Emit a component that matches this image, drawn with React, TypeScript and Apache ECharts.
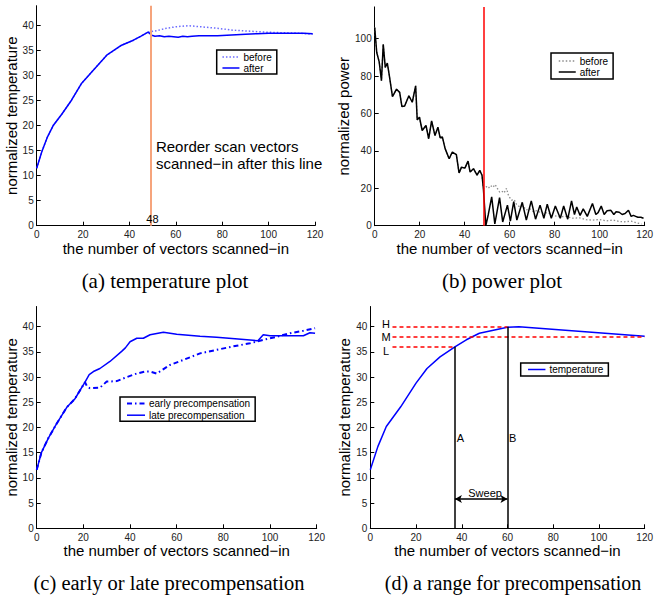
import React, { useEffect, useRef } from "react";
import * as echarts from "echarts";

// ---------- tick labels ----------
const xTicks = [0, 20, 40, 60, 80, 100, 120];
const tempTicks = [0, 5, 10, 15, 20, 25, 30, 35, 40];
const powerTicks = [0, 20, 40, 60, 80, 100];

// ---------- (a) temperature plot ----------
const tempRiseX = [0, 2.2, 4.5, 7.2, 10.8, 15, 19.4, 24.4, 30.2, 36.6, 41.7, 45, 48];
const tempRiseY = [11.5, 14.8, 17.6, 20.1, 22.3, 25.1, 28.5, 31.1, 34.1, 36.1, 37.1, 37.9, 38.7];
const afterTailX = [49.6, 51, 53, 55, 57, 59, 61, 63, 65, 67, 70, 74, 78, 82, 86, 90, 95, 100, 105, 110, 115, 119];
const afterTailY = [38.1, 37.9, 38.0, 37.8, 37.9, 37.8, 37.7, 37.9, 37.8, 37.9, 38.0, 38.0, 38.0, 38.1, 38.2, 38.3, 38.4, 38.5, 38.5, 38.5, 38.5, 38.4];
const beforeTailX = [51.7, 56, 60.3, 65.4, 70.4, 77.6, 84.8, 92, 99, 106, 113.5, 119];
const beforeTailY = [39, 39.5, 39.8, 40, 39.8, 39.5, 39.1, 38.9, 38.7, 38.6, 38.5, 38.3];
const reorderAtA = 49;

// ---------- (b) power plot ----------
const powerHeadX = [0, 0.9, 2, 3, 3.8, 4.7, 5.6, 6.4, 7.9, 9.7, 11.1, 12.1, 13.3, 15.2, 16.7, 18.2, 18.9, 19.9, 21.1, 22.8, 24, 25.3, 26.8, 28.1, 29.1, 30.1, 31.3, 33.1, 34.5, 36.3, 37.5, 38.6, 40.1, 41.5, 42.4, 43.9, 45.5, 46.7, 47.7];
const powerHeadY = [106, 92.6, 87.6, 77.5, 97, 84.6, 87, 81, 69, 73, 71.3, 63.7, 64, 69.5, 66, 74.8, 56.6, 58, 50.9, 53.6, 46.5, 56, 48.2, 52.7, 47, 47.4, 41.2, 35.8, 39.4, 38, 28.2, 31.3, 30.8, 34.5, 28.7, 30.5, 27, 29.6, 27];
const powerAfterX = [48.3, 49.4, 50.5, 52, 53.4, 55.5, 56.9, 59, 60.3, 61.8, 63.2, 65.6, 67.4, 69.6, 71.5, 73.5, 75.2, 76.7, 78.5, 80.3, 82.5, 84, 85.8, 87.5, 88.8, 89.8, 91.3, 92.7, 94.5, 96.8, 98.3, 99.3, 100.7, 102, 103.3, 105, 106.3, 107.3, 108.7, 110, 111.3, 112.8, 114, 115, 116, 117, 118.3, 119.5];
const powerAfterY = [20, 0, 6, 15.4, 1, 15, 2, 11, 2.5, 12.9, 3, 12.5, 3, 13.3, 3.5, 11, 4, 11.5, 4, 10.5, 4, 10.5, 3.5, 13.3, 6, 10, 5.5, 9, 5, 11.9, 6, 7, 10.5, 6, 8, 8.2, 6, 7.5, 7.2, 6, 6.5, 8.3, 5, 5.5, 5, 4.5, 4.5, 4];
const powerBeforeX = [48.3, 49.5, 50.5, 51.5, 52.5, 53.5, 54.5, 55.5, 56.5, 57.5, 58.6, 59.5, 60.8, 62, 63, 64.5, 66, 67.3, 69, 70.5, 72, 74.7, 77, 79, 82, 85, 88, 91, 94, 96.6, 100, 103, 106, 109, 111, 114, 116.5, 118.6];
const powerBeforeY = [20, 21, 20, 21.5, 20.5, 22, 20, 18, 18.5, 17.5, 20, 16, 13.7, 14, 11.5, 10, 10.5, 8.4, 9, 7.5, 8, 6.6, 7, 5.5, 4.8, 5, 4, 4.2, 3.2, 3, 3.3, 2.6, 3, 2.2, 2.1, 2.4, 1.5, 0.9];
const reorderAtB = 48.3;

// ---------- (c) early or late precompensation ----------
const lateX = [0, 2, 5, 8.6, 12.9, 16.4, 20.7, 22.5, 24.3, 27.1, 31.4, 36.4, 38, 40, 42.9, 45.7, 48.6, 54.3, 60, 70, 77.1, 85, 94.8, 97.1, 100, 105, 114.3, 117.1, 119.3];
const lateY = [11.6, 15, 17.9, 20.8, 24, 25.7, 29, 30.5, 31.1, 31.7, 33.1, 35.1, 35.8, 37, 37.7, 37.7, 38.4, 38.9, 38.5, 38.1, 37.9, 37.6, 37.2, 38.4, 38.2, 38.2, 38.2, 38.8, 38.7];
const earlyHeadCount = 7; // early and late coincide up to x = 20.7
const earlyTailX = [21.6, 22.8, 27.1, 30, 34.3, 38.6, 42.9, 46.4, 48.6, 51.4, 57.1, 62.8, 70, 77.1, 84.3, 91.4, 97.1, 102.9, 108.6, 114.3, 119.3];
const earlyTailY = [28.1, 27.8, 27.9, 29.1, 29.2, 30, 30.7, 31.1, 31.1, 30.7, 32.4, 33.4, 34.7, 35.4, 36.1, 36.7, 37.4, 38, 38.7, 39.2, 39.7];

// ---------- (d) a range for precompensation ----------
const rangeX = [0, 3.3, 7, 13.3, 20, 24.8, 30.5, 37, 42, 47.7, 60, 65, 120];
const rangeY = [11.6, 16.2, 20.2, 24.1, 28.8, 31.7, 34, 36, 37.4, 38.7, 39.9, 40, 38.1];
const levelNames = ["H", "M", "L"];
const levelValues = [40, 38, 36];
const sweepA = 37;
const sweepB = 60;

const zip = (xs: number[], ys: number[]) => xs.map((x, i) => [x, ys[i]]);

const SANS = '"Liberation Sans", Arial, Helvetica, sans-serif';
const SERIF = '"Liberation Serif", "Times New Roman", serif';
const BLUE = "#0000ff";

function xAxisCfg(gridIndex: number) {
  return {
    gridIndex,
    type: "value",
    min: 0,
    max: 120,
    interval: 20,
    name: "the number of vectors scanned−in",
    nameLocation: "middle",
    nameGap: 13,
    nameTextStyle: { fontSize: 15, color: "#000", fontFamily: SANS },
    axisLine: { show: true, onZero: false, lineStyle: { color: "#000", width: 1 } },
    axisTick: { show: true, inside: true, length: 4, customValues: xTicks, lineStyle: { color: "#000" } },
    axisLabel: { fontSize: 10, margin: 4, color: "#222", fontFamily: SANS, customValues: xTicks },
    splitLine: { show: false },
  };
}

function yAxisCfg(gridIndex: number, name: string, max: number, interval: number, ticks: number[], gap: number) {
  return {
    gridIndex,
    type: "value",
    min: 0,
    max,
    interval,
    name,
    nameLocation: "middle",
    nameGap: gap,
    nameTextStyle: { fontSize: 15, color: "#000", fontFamily: SANS },
    axisLine: { show: true, onZero: false, lineStyle: { color: "#000", width: 1 } },
    axisTick: { show: true, inside: true, length: 4, customValues: ticks, lineStyle: { color: "#000" } },
    axisLabel: { fontSize: 10, margin: 3, color: "#222", fontFamily: SANS, customValues: ticks },
    splitLine: { show: false },
  };
}

function legendCfg(left: number, top: number, items: any[], padding: number[], itemGap: number, itemWidth: number) {
  return {
    left,
    top,
    orient: "vertical",
    selectedMode: false,
    data: items.map((it) => ({ ...it, itemStyle: { opacity: 0, borderWidth: 0 } })),
    padding,
    itemGap,
    itemWidth,
    itemHeight: 10,
    itemStyle: { opacity: 0, borderWidth: 0 },
    borderColor: "#000",
    borderWidth: 1.5,
    borderRadius: 0,
    backgroundColor: "#fff",
    textStyle: { fontSize: 10, color: "#000", fontFamily: SANS, padding: [0, 0, 0, -1] },
  };
}

const noSym = { symbol: "none", showSymbol: false };

function buildOption() {
  const hiddenPoint = { symbol: "circle", symbolSize: 0, itemStyle: { color: "transparent" } };
  const txt = (fontSize: number) => ({ show: true, position: "inside", fontSize, color: "#000", fontFamily: SANS });
  return {
    animation: false,
    backgroundColor: "#fff",
    grid: [
      { left: 36.7, top: 5.7, width: 278.3, height: 220 },
      { left: 374.7, top: 6.9, width: 273.3, height: 218.8 },
      { left: 36.7, top: 306.5, width: 280, height: 221.8 },
      { left: 370.3, top: 306.5, width: 279.4, height: 221.8 },
    ],
    xAxis: [xAxisCfg(0), xAxisCfg(1), xAxisCfg(2), xAxisCfg(3)],
    yAxis: [
      yAxisCfg(0, "normalized temperature", 44, 5, tempTicks, 14),
      yAxisCfg(1, "normalized power", 117, 20, powerTicks, 20),
      yAxisCfg(2, "normalized temperature", 44, 5, tempTicks, 14.5),
      yAxisCfg(3, "normalized temperature", 44, 5, tempTicks, 15.5),
    ],
    legend: [
      legendCfg(216.7, 50, [
        { name: "before", lineStyle: { color: "#6b6bff", type: [1.5, 2], width: 1.5 } },
        { name: "after", lineStyle: { color: BLUE, type: "solid", width: 1.5 } },
      ], [2, 5, 1, 5], 1, 17),
      legendCfg(551, 53, [
        { name: "before", lineStyle: { color: "#8c8c8c", type: [1.5, 2], width: 1.5 } },
        { name: "after", lineStyle: { color: "#000", type: "solid", width: 1.5 } },
      ], [3, 5, 2, 7], 1, 17),
      legendCfg(120, 397, [
        { name: "early precompensation", lineStyle: { color: BLUE, type: [5, 3, 1.5, 3], width: 2 } },
        { name: "late precompensation", lineStyle: { color: BLUE, type: "solid", width: 1.5 } },
      ], [1.5, 5, 1, 6], 1.7, 18),
      legendCfg(520.7, 363, [
        { name: "temperature", lineStyle: { color: BLUE, type: "solid", width: 1.5 } },
      ], [1.5, 5, 1.5, 6.6], 1, 17.4),
    ],
    series: [
      // (a)
      {
        type: "line", name: "before", xAxisIndex: 0, yAxisIndex: 0, ...noSym,
        data: zip([...tempRiseX, ...beforeTailX], [...tempRiseY, ...beforeTailY]),
        itemStyle: { color: "#6b6bff" },
        lineStyle: { color: "#6b6bff", type: [1.5, 2], width: 1.5 },
        z: 2,
      },
      {
        type: "line", name: "after", xAxisIndex: 0, yAxisIndex: 0, ...noSym,
        data: zip([...tempRiseX, ...afterTailX], [...tempRiseY, ...afterTailY]),
        itemStyle: { color: BLUE },
        lineStyle: { color: BLUE, width: 1.5 },
        z: 3,
        markLine: {
          silent: true, symbol: "none", label: { show: false },
          lineStyle: { color: "#f6a47c", width: 2, type: "solid" },
          data: [{ xAxis: reorderAtA }],
        },
        markPoint: {
          ...hiddenPoint,
          silent: true,
          data: [
            { coord: [49.9, 1.44], label: { ...txt(11), formatter: "48" } },
            { coord: [51.4, 14.24], label: { ...txt(15), position: "right", distance: 0, align: "left", formatter: "Reorder scan vectors\nscanned−in after this line", lineHeight: 17 } },
          ],
        },
      },
      // (b)
      {
        type: "line", name: "before", xAxisIndex: 1, yAxisIndex: 1, ...noSym,
        data: zip([...powerHeadX, ...powerBeforeX], [...powerHeadY, ...powerBeforeY]),
        itemStyle: { color: "#8c8c8c" },
        lineStyle: { color: "#8c8c8c", type: [1.5, 2], width: 1.3 },
        z: 2,
      },
      {
        type: "line", name: "after", xAxisIndex: 1, yAxisIndex: 1, ...noSym,
        data: zip([...powerHeadX, ...powerAfterX], [...powerHeadY, ...powerAfterY]),
        itemStyle: { color: "#000" },
        lineStyle: { color: "#000", width: 1.5 },
        z: 3,
        markLine: {
          silent: true, symbol: "none", label: { show: false },
          lineStyle: { color: "#ff0000", width: 1.5, type: "solid" },
          data: [{ xAxis: reorderAtB }],
        },
      },
      // (c)
      {
        type: "line", name: "early precompensation", xAxisIndex: 2, yAxisIndex: 2, ...noSym,
        data: zip([...lateX.slice(0, earlyHeadCount), ...earlyTailX], [...lateY.slice(0, earlyHeadCount), ...earlyTailY]),
        itemStyle: { color: BLUE },
        lineStyle: { color: BLUE, type: [5, 3, 1.5, 3], width: 2 },
      },
      {
        type: "line", name: "late precompensation", xAxisIndex: 2, yAxisIndex: 2, ...noSym,
        data: zip(lateX, lateY),
        itemStyle: { color: BLUE },
        lineStyle: { color: BLUE, width: 1.5 },
      },
      // (d)
      {
        type: "line", name: "temperature", xAxisIndex: 3, yAxisIndex: 3, ...noSym,
        data: zip(rangeX, rangeY),
        itemStyle: { color: BLUE },
        lineStyle: { color: BLUE, width: 1.5 },
        z: 3,
        markPoint: {
          ...hiddenPoint,
          silent: true,
          label: txt(11),
          data: [
            { coord: [39.4, 18], label: { ...txt(11), formatter: "A" } },
            { coord: [62.3, 18], label: { ...txt(11), formatter: "B" } },
            { coord: [50.2, 7.1], label: { ...txt(11), formatter: "Sweep" } },
            { coord: [6.9, 40.5], label: { ...txt(11), formatter: levelNames[0] } },
            { coord: [6.9, 38.0], label: { ...txt(11), formatter: levelNames[1] } },
            { coord: [6.9, 35.2], label: { ...txt(11), formatter: levelNames[2] } },
          ],
        },
      },
      {
        type: "line", xAxisIndex: 3, yAxisIndex: 3, data: [], ...noSym,
        markLine: {
          silent: true, symbol: "none",
          lineStyle: { color: "#ff0000", width: 1.5, type: [4, 3] },
          label: { show: false },
          data: [
            [{ coord: [9.7, levelValues[0]] }, { coord: [sweepB, levelValues[0]] }],
            [{ coord: [9.7, levelValues[1]] }, { coord: [120, levelValues[1]] }],
            [{ coord: [9.7, levelValues[2]] }, { coord: [sweepA, levelValues[2]] }],
          ],
        },
      },
      {
        type: "line", xAxisIndex: 3, yAxisIndex: 3, data: [], ...noSym,
        markLine: {
          silent: true, symbol: "none",
          lineStyle: { color: "#000", width: 1.5, type: "solid" },
          label: { show: false },
          data: [
            [{ coord: [sweepA, 0] }, { coord: [sweepA, levelValues[2]] }],
            [{ coord: [sweepB, 0] }, { coord: [sweepB, levelValues[0]] }],
          ],
        },
      },
      {
        type: "line", xAxisIndex: 3, yAxisIndex: 3, data: [], ...noSym,
        markLine: {
          silent: true, symbol: ["arrow", "arrow"], symbolSize: [6, 7],
          lineStyle: { color: "#000", width: 1.5, type: "solid" },
          itemStyle: { color: "#000" },
          label: { show: false },
          data: [[{ coord: [sweepA, 5.8] }, { coord: [sweepB, 5.8] }]],
        },
      },
    ],
    graphic: [
      { type: "text", x: 165, y: 281, style: { text: "(a) temperature plot", font: `21px ${SERIF}`, fill: "#000", align: "center", verticalAlign: "middle" } },
      { type: "text", x: 502, y: 281, style: { text: "(b) power plot", font: `21px ${SERIF}`, fill: "#000", align: "center", verticalAlign: "middle" } },
      { type: "text", x: 169, y: 583, style: { text: "(c) early or late precompensation", font: `20.5px ${SERIF}`, fill: "#000", align: "center", verticalAlign: "middle" } },
      { type: "text", x: 513, y: 583, style: { text: "(d) a range for precompensation", font: `20px ${SERIF}`, fill: "#000", align: "center", verticalAlign: "middle" } },
    ],
  };
}

export default function App() {
  const ref = useRef<HTMLDivElement>(null);
  useEffect(() => {
    if (!ref.current) return;
    const chart = echarts.init(ref.current, null, { renderer: "svg" });
    chart.setOption(buildOption() as any);
    return () => chart.dispose();
  }, []);
  return (
    <div
      ref={ref}
      style={{ position: "fixed", left: 0, top: 0, width: 656, height: 600, background: "#fff" }}
    />
  );
}
